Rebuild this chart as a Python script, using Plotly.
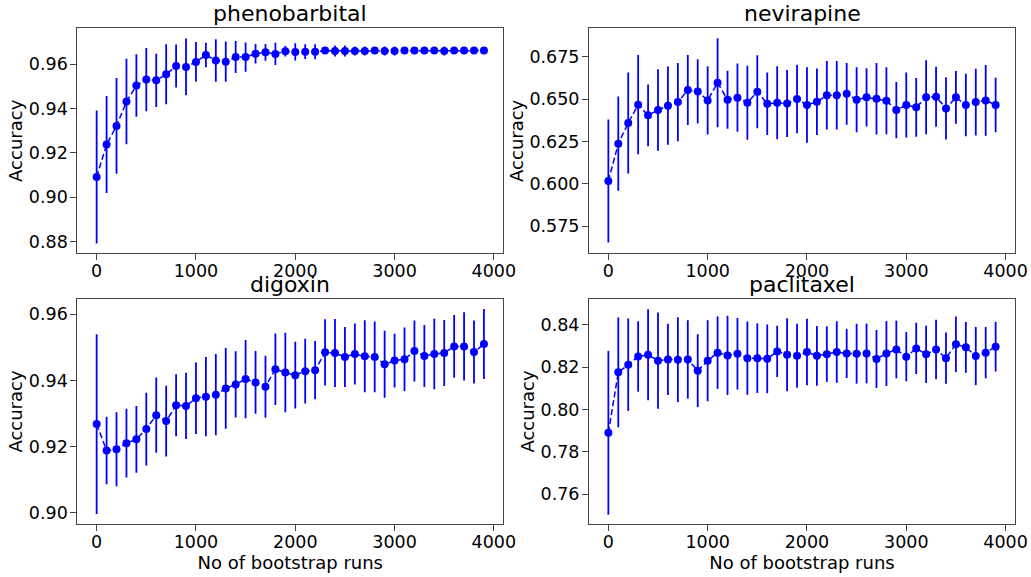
import plotly.graph_objects as go

runs = [0, 100, 200, 300, 400, 500, 600, 700, 800, 900,
        1000, 1100, 1200, 1300, 1400, 1500, 1600, 1700, 1800, 1900,
        2000, 2100, 2200, 2300, 2400, 2500, 2600, 2700, 2800, 2900,
        3000, 3100, 3200, 3300, 3400, 3500, 3600, 3700, 3800, 3900]

phenobarbital_acc = [0.9092, 0.9238, 0.9322, 0.9432, 0.9504, 0.9531, 0.9528, 0.9555, 0.9592, 0.9588,
                     0.9611, 0.9642, 0.9617, 0.9612, 0.9633, 0.9633, 0.9648, 0.9654, 0.9647, 0.9659,
                     0.9656, 0.9657, 0.9657, 0.9662, 0.9660, 0.9660, 0.9660, 0.9660, 0.9662, 0.9660,
                     0.9660, 0.9662, 0.9662, 0.9662, 0.9662, 0.9660, 0.9662, 0.9662, 0.9662, 0.9662]
phenobarbital_err = [0.0300, 0.0219, 0.0216, 0.0193, 0.0141, 0.0143, 0.0120, 0.0135, 0.0097, 0.0128,
                     0.0090, 0.0055, 0.0096, 0.0091, 0.0072, 0.0066, 0.0044, 0.0038, 0.0050, 0.0024,
                     0.0039, 0.0033, 0.0034, 0.0015, 0.0025, 0.0025, 0.0020, 0.0020, 0.0012, 0.0020,
                     0.0020, 0.0012, 0.0010, 0.0010, 0.0010, 0.0020, 0.0012, 0.0010, 0.0010, 0.0010]

nevirapine_acc = [0.6017, 0.6237, 0.6359, 0.6467, 0.6404, 0.6435, 0.6461, 0.6482, 0.6553, 0.6545,
                  0.6492, 0.6596, 0.6496, 0.6508, 0.6478, 0.6543, 0.6472, 0.6478, 0.6474, 0.6500,
                  0.6465, 0.6484, 0.6522, 0.6522, 0.6531, 0.6496, 0.6510, 0.6502, 0.6490, 0.6435,
                  0.6465, 0.6451, 0.6510, 0.6514, 0.6445, 0.6510, 0.6465, 0.6482, 0.6492, 0.6465]
nevirapine_err = [0.0362, 0.0278, 0.0298, 0.0292, 0.0182, 0.0240, 0.0231, 0.0231, 0.0206, 0.0189,
                  0.0201, 0.0262, 0.0171, 0.0201, 0.0218, 0.0215, 0.0184, 0.0215, 0.0197, 0.0202,
                  0.0223, 0.0196, 0.0202, 0.0202, 0.0182, 0.0192, 0.0172, 0.0211, 0.0198, 0.0166,
                  0.0192, 0.0173, 0.0218, 0.0177, 0.0183, 0.0156, 0.0184, 0.0197, 0.0208, 0.0160]

digoxin_acc = [0.9268, 0.9188, 0.9192, 0.9210, 0.9222, 0.9253, 0.9295, 0.9277, 0.9325, 0.9323,
               0.9346, 0.9351, 0.9357, 0.9376, 0.9388, 0.9404, 0.9394, 0.9381, 0.9434, 0.9424,
               0.9416, 0.9428, 0.9431, 0.9485, 0.9483, 0.9471, 0.9480, 0.9473, 0.9471, 0.9449,
               0.9460, 0.9464, 0.9489, 0.9474, 0.9480, 0.9483, 0.9503, 0.9503, 0.9486, 0.9510]
digoxin_err = [0.0272, 0.0102, 0.0112, 0.0104, 0.0101, 0.0110, 0.0114, 0.0107, 0.0094, 0.0100,
               0.0108, 0.0120, 0.0123, 0.0122, 0.0100, 0.0118, 0.0095, 0.0094, 0.0108, 0.0120,
               0.0101, 0.0098, 0.0088, 0.0100, 0.0103, 0.0091, 0.0092, 0.0109, 0.0107, 0.0101,
               0.0081, 0.0096, 0.0092, 0.0094, 0.0107, 0.0100, 0.0095, 0.0103, 0.0095, 0.0106]

paclitaxel_acc = [0.7890, 0.8175, 0.8211, 0.8250, 0.8258, 0.8230, 0.8236, 0.8235, 0.8236, 0.8183,
                  0.8230, 0.8268, 0.8255, 0.8263, 0.8242, 0.8242, 0.8239, 0.8274, 0.8258, 0.8253,
                  0.8271, 0.8253, 0.8261, 0.8271, 0.8264, 0.8263, 0.8264, 0.8238, 0.8264, 0.8283,
                  0.8249, 0.8288, 0.8260, 0.8283, 0.8242, 0.8308, 0.8293, 0.8252, 0.8268, 0.8296]
paclitaxel_err = [0.0386, 0.0259, 0.0218, 0.0166, 0.0215, 0.0227, 0.0168, 0.0200, 0.0185, 0.0172,
                  0.0191, 0.0171, 0.0187, 0.0169, 0.0173, 0.0164, 0.0162, 0.0121, 0.0172, 0.0151,
                  0.0157, 0.0141, 0.0131, 0.0145, 0.0116, 0.0141, 0.0141, 0.0137, 0.0153, 0.0136,
                  0.0116, 0.0121, 0.0135, 0.0140, 0.0121, 0.0131, 0.0120, 0.0137, 0.0121, 0.0117]

titles = ["phenobarbital", "nevirapine", "digoxin", "paclitaxel"]
series = [(phenobarbital_acc, phenobarbital_err), (nevirapine_acc, nevirapine_err),
          (digoxin_acc, digoxin_err), (paclitaxel_acc, paclitaxel_err)]

y_ticks = [[0.88, 0.90, 0.92, 0.94, 0.96],
           [0.575, 0.600, 0.625, 0.650, 0.675],
           [0.90, 0.92, 0.94, 0.96],
           [0.76, 0.78, 0.80, 0.82, 0.84]]
y_fmt = [".2f", ".3f", ".2f", ".2f"]
y_ranges = [[0.87475, 0.97625], [0.5591, 0.6917], [0.89657, 0.96464], [0.7460, 0.8521]]
x_ticks = [0, 1000, 2000, 3000, 4000]

W, H = 1031, 577
# panel boxes in pixels (left, right, top, bottom)
boxes = [(77.3, 503.3, 28.3, 253.3), (589.0, 1015.0, 28.3, 253.3),
         (77.3, 503.3, 299.0, 524.0), (589.0, 1015.0, 299.0, 524.0)]

FONT = "DejaVu Sans"
BLUE = "#0000ff"
fig = go.Figure()
annotations = []
layout = dict(width=W, height=H, margin=dict(l=0, r=0, t=0, b=0, autoexpand=False),
              plot_bgcolor="white", paper_bgcolor="white", showlegend=False,
              font=dict(family=FONT, size=17, color="black"))

for i, ((acc, err), title) in enumerate(zip(series, titles)):
    n = "" if i == 0 else str(i + 1)
    l, r, t, b = boxes[i]
    fig.add_trace(go.Scatter(
        x=runs, y=acc, mode="lines+markers",
        xaxis="x" + n, yaxis="y" + n,
        line=dict(color=BLUE, width=1.5, dash="6px,3px"),
        marker=dict(color=BLUE, size=8),
        error_y=dict(type="data", array=err, visible=True, color=BLUE, thickness=1.8, width=0),
    ))
    ax_common = dict(showline=True, mirror=True, linecolor="#444", linewidth=1,
                     ticks="outside", ticklen=6, tickcolor="#444", showgrid=False, zeroline=False,
                     automargin=False,
                     tickfont=dict(family=FONT, size=17.5, color="black"))
    layout["xaxis" + n] = dict(ax_common, domain=[l / W, r / W], anchor="y" + n,
                               range=[-195, 4095], tickvals=x_ticks, ticklabelstandoff=-4,
                               ticktext=[str(v) for v in x_ticks])
    yax = dict(ax_common, domain=[1 - b / H, 1 - t / H], anchor="x" + n,
               range=y_ranges[i], tickvals=y_ticks[i], ticklabelstandoff=-1,
               ticktext=[format(v, y_fmt[i]) for v in y_ticks[i]],
               title=dict(text="Accuracy", font=dict(family=FONT, size=18), standoff=1))
    layout["yaxis" + n] = yax
    if i >= 2:
        layout["xaxis" + n]["title"] = dict(text="No of bootstrap runs",
                                            font=dict(family=FONT, size=18), standoff=1)
    annotations.append(dict(text=title, x=(l + r) / 2 / W, y=1 - (t - 1) / H,
                            xref="paper", yref="paper", xanchor="center", yanchor="bottom",
                            borderpad=0,
                            showarrow=False, font=dict(family=FONT, size=22, color="black")))

layout["annotations"] = annotations
fig.update_layout(**layout)
fig.write_html("out.html", config={"displayModeBar": False},
               post_script="document.body.style.margin='0';document.body.style.padding='0';"
                           "document.body.style.overflow='hidden';")
